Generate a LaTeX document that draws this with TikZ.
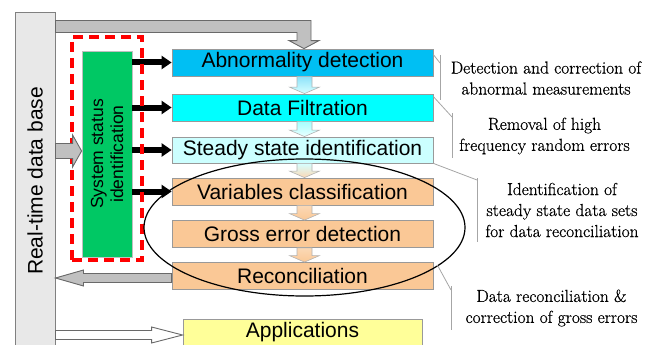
\documentclass[tikz,border=0pt]{standalone}
\usepackage{fontspec}
\newfontfamily\notefont{Latin Modern Roman}[FakeBold=0.6]
\newfontfamily\boxfont{Liberation Sans}
\usetikzlibrary{shapes.geometric,arrows.meta,calc}
\definecolor{c1}{RGB}{0,191,243}
\definecolor{c2}{RGB}{0,255,255}
\definecolor{c3}{RGB}{204,255,255}
\definecolor{peach}{RGB}{250,200,150}
\definecolor{ylw}{RGB}{255,255,153}
\definecolor{grn}{RGB}{0,200,100}
\definecolor{dbfill}{RGB}{232,232,232}
\definecolor{garrow}{RGB}{192,192,192}
\definecolor{gedge}{RGB}{105,105,105}
\newcommand\flowarr[4]{%
  \path[draw=gray!60, line width=0.6pt, top color=#3, bottom color=#4]
    let \p1=($(#1.south)+(2,0)$), \p2=($(#2.north)+(2,0)$) in
    (\x1-7.5pt,\y1) -- (\x1+7.5pt,\y1) -- (\x1+7.5pt,\y2+6.5pt) -- (\x1+15pt,\y2+6.5pt)
    -- (\x1,\y2) -- (\x1-15pt,\y2+6.5pt) -- (\x1-7.5pt,\y2+6.5pt) -- cycle;}
\begin{document}
\begin{tikzpicture}[x=1pt,y=-1pt,
  stage/.style={draw=gray!80, line width=0.8pt, minimum width=261pt, minimum height=27pt,
    inner sep=0pt, font=\boxfont\fontsize{21}{25}\selectfont},
  note/.style={align=center, font=\notefont\fontsize{17.4}{21}\selectfont, text=black, inner sep=0pt},
  callout/.style={draw=gray!70, line width=0.8pt},
  blk/.style={line width=6pt, -{Triangle[length=10pt,width=13pt]}},
  grayarr/.style={fill=garrow, draw=gedge, line width=0.9pt},
]
\useasboundingbox (0,0) rectangle (645,345);
\clip (0,0) rectangle (645,345);

% database bar
\node[draw=gray, fill=dbfill, line width=1pt, minimum width=40pt, minimum height=347pt, inner sep=0pt] (db) at (35,186.5) {};
\node[rotate=90, font=\boxfont\fontsize{21}{25}\selectfont, inner sep=0pt] (dbt) at (35,181) {Real-time data base};

% stages
\node[stage, fill=c1] (b1) at (302.5,62.5) {Abnormality detection};
\node[stage, fill=c2] (b2) at (302.5,107.5) {Data Filtration};
\node[stage, fill=c3, minimum height=26pt] (b3) at (302.5,150) {Steady state identification};
\node[stage, fill=peach] (b4) at (302.5,191.5) {Variables classification};
\node[stage, fill=peach] (b5) at (302.5,234) {Gross error detection};
\node[stage, fill=peach] (b6) at (302.5,276) {Reconciliation};
\node[stage, fill=ylw, minimum width=239pt] (apps) at (302.5,332.5) {Applications};

% top gray arrow
\coordinate (tA) at ($(b1.north)+(1.5,0)$);
\draw[grayarr] let \p1=(db.north east), \p2=(tA) in
  (\x1,\y1-8pt) -- (\x2+7pt,\y1-8pt) -- (\x2+7pt,\y2+8pt) -- (\x2+15pt,\y2+8pt) -- (\p2)
  -- (\x2-15pt,\y2+8pt) -- (\x2-7pt,\y2+8pt) -- (\x2-7pt,\y1-20pt) -- (\x1,\y1-20pt) -- cycle;

% flow arrows between stages
\flowarr{b1}{b2}{c1!45!white}{c2!15!white}
\flowarr{b2}{b3}{c2!35!white}{c3!40!white}
\flowarr{b3}{b4}{c3!80!white}{peach!70!white}
\flowarr{b4}{b5}{peach!70!white}{peach}
\flowarr{b5}{b6}{peach!70!white}{peach}

% system status identification
\node[draw=gray!50, fill=grn, line width=0.8pt, minimum width=50pt, minimum height=206pt, inner sep=0pt] (ssi) at (107,154) {};
\node[rotate=90, align=center, font=\boxfont\fontsize{17.5}{20}\selectfont, inner sep=0pt] (ssit) at (ssi.center) {System status\\identification};

% black arrows
\draw[blk] (ssi.east |- b1.west) -- (b1.west);
\draw[blk] (ssi.east |- b2.west) -- (b2.west);
\draw[blk] (ssi.east |- b3.west) -- (b3.west);
\draw[blk] (ssi.east |- b4.west) -- (b4.west);

% red dashed frame
\node[draw=red, dash pattern=on 10pt off 6pt, line width=3.2pt, minimum width=70pt, minimum height=223pt, inner sep=0pt] (sel) at (107,148.5) {};

% gray arrow into ssi
\draw[grayarr] let \p1=(db.east), \p2=($(ssi.west)+(0,-3)$) in
  (\x1,\y2+7.5pt) -- (\x2-9pt,\y2+7.5pt) -- (\x2-9pt,\y2+16pt) -- (\p2)
  -- (\x2-9pt,\y2-16pt) -- (\x2-9pt,\y2-7.5pt) -- (\x1,\y2-7.5pt) -- cycle;

% reconciliation back to database
\draw[grayarr] let \p1=($(b6.west)+(0,2)$), \p2=(db.east) in
  (\x1,\y1+4.5pt) -- (\x2+28pt,\y1+4.5pt) -- (\x2+28pt,\y1+8pt) -- (\x2,\y1)
  -- (\x2+28pt,\y1-8pt) -- (\x2+28pt,\y1-4.5pt) -- (\x1,\y1-4.5pt) -- cycle;

% database to applications
\draw[fill=white, draw=gedge, line width=0.9pt] let \p1=(db.east), \p2=($(apps.west)+(0,2.5)$) in
  (\x1,\y2+4.5pt) -- (\x2-31pt,\y2+4.5pt) -- (\x2-31pt,\y2+8pt) -- (\p2)
  -- (\x2-31pt,\y2-8pt) -- (\x2-31pt,\y2-4.5pt) -- (\x1,\y2-4.5pt) -- cycle;

% ellipse
\node[draw=black, line width=1.2pt, ellipse, minimum width=321pt, minimum height=137pt, inner sep=0pt] (ell) at (304.5,227.5) {};

% callouts
\coordinate (k1a) at (440,63); \coordinate (k1t) at (440,55); \coordinate (k1b) at (440,100);
\coordinate (k2a) at (452,117); \coordinate (k2t) at (452,113); \coordinate (k2b) at (452,158);
\coordinate (k3a) at (477,180); \coordinate (k3t) at (477,178); \coordinate (k3b) at (477,242);
\coordinate (k4a) at (451,290); \coordinate (k4t) at (451,286); \coordinate (k4b) at (451,330);
\draw[callout] ($(b1.north east)+(0,6)$) -- (k1a);
\draw[callout] (k1t) -- (k1b);
\draw[callout] ($(b2.north east)+(0,3)$) -- (k2a);
\draw[callout] (k2t) -- (k2b);
\draw[callout] (b3.south east) -- (k3a);
\draw[callout] (k3t) -- (k3b);
\draw[callout] ($(b6.north east)+(4,3)$) -- (k4a);
\draw[callout] (k4t) -- (k4b);

% notes
\node[note] (n1) at (546,78) {Detection and correction of\\abnormal measurements};
\node[note] (n2) at (544.5,136) {Removal of high\\frequency random errors};
\node[note] (n3) at (562,210) {Identification of\\steady state data sets\\for data reconciliation};
\node[note] (n4) at (551.5,308) {Data reconciliation \&\\correction of gross errors};
\end{tikzpicture}
\end{document}
